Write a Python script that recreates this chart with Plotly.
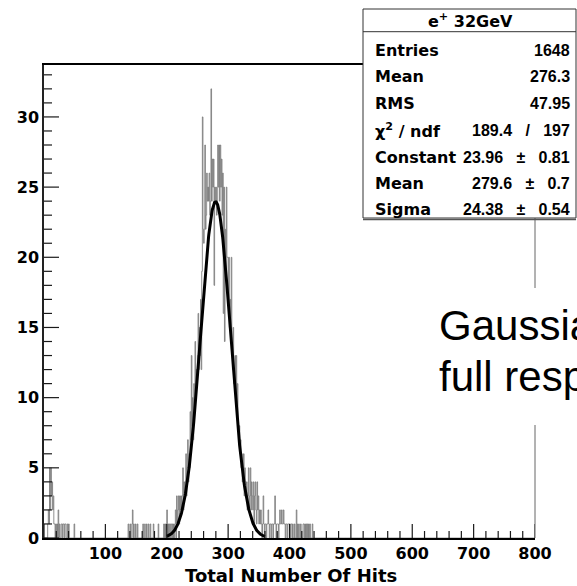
import numpy as np
import plotly.graph_objects as go

# ---------------- data ----------------
n_bins = 800
x_min, x_max = 0, 800

# scattered low-count bins left of the peak (bin lower edge -> entries)
left_bins = [6, 7, 8, 9, 10, 11, 12, 13, 14, 15, 16, 17, 19, 21, 23, 25, 28, 29, 31, 32,
             34, 35, 38, 40, 49, 137, 140, 143, 144, 146, 149, 152, 161, 164, 167, 170,
             173, 178, 186, 195, 197, 199]
left_counts = [1, 2, 1, 5, 2, 5, 3, 4, 2, 3, 1, 1, 1, 1, 2, 1, 1, 1, 1, 1,
               1, 1, 1, 1, 1, 1, 1, 1, 2, 1, 1, 1, 1, 1, 1, 1,
               1, 1, 1, 1, 1, 1]

# consecutive bins starting at hit count 200
peak_start = 200
peak_counts = [
    2, 0, 1, 0, 1, 0, 1, 1, 0, 1,          # 200
    0, 1, 0, 1, 2, 0, 3, 1, 2, 3,          # 210
    1, 3, 2, 3, 2, 3, 5, 2, 4, 3,          # 220
    4, 6, 3, 5, 7, 4, 6, 5, 9, 7,          # 230
    13, 8, 10, 7, 11, 9, 14, 10, 12, 11,   # 240
    13, 16, 12, 15, 13, 17, 12, 19, 30, 22,  # 250
    21, 22, 28, 22, 23, 26, 24, 25, 24, 26,  # 260
    23, 24, 32, 24, 27, 25, 27, 18, 25, 24,  # 270
    25, 23, 24, 28, 25, 28, 24, 28, 25, 27,  # 280
    23, 26, 16, 25, 14, 22, 19, 25, 20, 20,  # 290
    17, 20, 15, 17, 14, 20, 13, 12, 15, 11,  # 300
    12, 13, 10, 13, 9, 11, 8, 7, 8, 6,     # 310
    7, 5, 6, 4, 5, 6, 3, 5, 4, 3,          # 320
    4, 2, 3, 5, 2, 3, 5, 2, 4, 3,          # 330
    2, 4, 1, 3, 4, 2, 1, 4, 2, 3,          # 340
    1, 2, 1, 2, 1, 0, 1, 3, 1, 0,          # 350
    1, 1, 0, 1, 1, 2, 1, 0, 1, 1,          # 360
    0, 1, 1, 0, 1, 1, 3, 1, 0, 1,          # 370
    1, 1, 0, 1, 2, 1, 1, 2, 1, 1,          # 380
    2, 1, 1, 0, 1, 1, 0, 1, 1, 1,          # 390
    1, 0, 1, 1, 0, 1, 0, 0, 1, 0,          # 400
    0, 2, 0, 1, 0, 1, 0, 0, 1, 0,          # 410
    0, 0, 1, 1, 0, 1, 0, 1, 0, 1,          # 420
    0, 1, 0, 1, 0, 0, 0, 1, 0, 0,          # 430
]

# Gaussian fit parameters shown in the stat box
fit_constant = 23.96
fit_mean = 279.6
fit_sigma = 24.38
fit_lo, fit_hi = 200, 360

x_major = 100
x_minor = 20
y_major = 5
y_minor = 1
y_max = 33.7

stat_title = "e<sup>+</sup> 32GeV"
stat_labels = ["Entries", "Mean", "RMS", "χ<sup>2</sup> / ndf", "Constant", "Mean", "Sigma"]
NB = "\u00a0"
GAP = NB * 3
stat_values = ["1648", "276.3", "47.95", "189.4" + GAP + "/" + GAP + "197",
               "23.96" + GAP + "±" + GAP + "0.81", "279.6" + GAP + "±" + GAP + "0.7",
               "24.38" + GAP + "±" + GAP + "0.54"]

slide_lines = ["Gaussian", "full response"]

# ---------------- build ----------------
counts = np.zeros(n_bins)
for b, c in zip(left_bins, left_counts):
    counts[b] = c
counts[peak_start:peak_start + len(peak_counts)] = peak_counts
edges = np.linspace(x_min, x_max, n_bins + 1)
hy = np.append(counts, counts[-1])

gx = np.linspace(fit_lo, fit_hi, 400)
gy = fit_constant * np.exp(-0.5 * ((gx - fit_mean) / fit_sigma) ** 2)

W, H = 577, 586
L, R, T, B = 44, 42, 65, 48
pw, ph = W - L - R, H - T - B


def px(x):
    return (x - L) / pw


def py(y):
    return (H - B - y) / ph


fig = go.Figure()
fig.add_trace(go.Scatter(x=edges, y=hy, mode="lines",
                         line=dict(color="#747474", width=0.8, shape="hv", simplify=False),
                         hoverinfo="skip", showlegend=False))
fig.add_trace(go.Scatter(x=gx, y=gy, mode="lines",
                         line=dict(color="black", width=3),
                         hoverinfo="skip", showlegend=False))

# ROOT-style inside ticks as one segment trace (lengths in pixels -> data units)
tx, ty = [], []
for xv in np.arange(x_min, x_max + 0.1, x_minor):
    is_major = abs(xv / x_major - round(xv / x_major)) < 1e-9
    ln = (14 if is_major else 7) * y_max / ph
    tx += [float(xv), float(xv), None]
    ty += [0.0, float(ln), None]
for yv in np.arange(0, y_max, y_minor):
    is_major = abs(yv / y_major - round(yv / y_major)) < 1e-9
    ln = (15 if is_major else 8) * (x_max - x_min) / pw
    tx += [float(x_min), float(x_min + ln), None]
    ty += [float(yv), float(yv), None]
fig.add_trace(go.Scatter(x=tx, y=ty, mode="lines",
                         line=dict(color="#1a1a1a", width=1.2),
                         hoverinfo="skip", showlegend=False))

tfont = dict(family="DejaVu Sans", size=16, color="black", weight="bold")

fig.update_layout(
    template="none",
    width=W, height=H, autosize=False,
    margin=dict(l=L, r=R, t=T, b=B, pad=0),
    paper_bgcolor="white", plot_bgcolor="white",
    showlegend=False,
    xaxis=dict(range=[x_min, x_max], showgrid=False, zeroline=False,
               showline=True, linecolor="black", linewidth=2, mirror=True,
               ticks="", tickmode="linear", tick0=0, dtick=x_major,
               labelalias={"0": " "},
               tickfont=tfont),
    yaxis=dict(range=[0, y_max], showgrid=False, zeroline=False,
               showline=True, linecolor="#222", linewidth=1.5, mirror=False,
               ticks="", tickmode="linear", tick0=0, dtick=y_major,
               tickfont=tfont),
)

shapes = []
# right frame edge, visible only between the boxes
shapes.append(dict(type="line", xref="paper", yref="paper", x0=1, x1=1,
                   y0=0, y1=py(425), line=dict(color="#666", width=1), layer="above"))
shapes.append(dict(type="line", xref="paper", yref="paper", x0=1, x1=1,
                   y0=py(288), y1=py(218), line=dict(color="#666", width=1), layer="above"))
# stat box
shapes.append(dict(type="rect", xref="paper", yref="paper",
                   x0=px(363), x1=px(576), y0=py(218), y1=py(9),
                   fillcolor="white", line=dict(color="#333", width=1), layer="above"))
shapes.append(dict(type="line", xref="paper", yref="paper",
                   x0=px(363), x1=px(576), y0=py(219.5), y1=py(219.5),
                   line=dict(color="#555", width=1.5), layer="above"))
shapes.append(dict(type="line", xref="paper", yref="paper",
                   x0=px(363), x1=px(576), y0=py(31.7), y1=py(31.7),
                   line=dict(color="#333", width=1), layer="above"))
fig.update_layout(shapes=shapes)

lfont = dict(family="DejaVu Sans", size=16, color="black", weight="bold")
vfont = dict(family="Liberation Sans", size=16, color="black", weight="bold")
ann = []
ann.append(dict(text=stat_title, x=px(470), y=py(20.5), xref="paper", yref="paper",
                xanchor="center", yanchor="middle", showarrow=False, font=lfont))
row_y = [50, 77, 103.5, 130.5, 157, 183.5, 209]
for lab, val, yy in zip(stat_labels, stat_values, row_y):
    ann.append(dict(text=lab, x=px(373), y=py(yy), xref="paper", yref="paper",
                    xanchor="left", yanchor="middle", showarrow=False, font=lfont))
    ann.append(dict(text=val, x=px(572), y=py(yy), xref="paper", yref="paper",
                    xanchor="right", yanchor="middle", showarrow=False, font=vfont))
# x axis title
ann.append(dict(text="Total Number Of Hits", x=px(291), y=py(575), xref="paper", yref="paper",
                xanchor="center", yanchor="middle", showarrow=False,
                font=dict(family="DejaVu Sans", size=18, color="black", weight="bold")))
# slide text overlay
bfont = dict(family="Liberation Sans", size=42, color="black")
ann.append(dict(text=slide_lines[0], x=px(437), y=py(325), xref="paper", yref="paper",
                xanchor="left", yanchor="middle", showarrow=False, font=bfont))
ann.append(dict(text=slide_lines[1], x=px(437), y=py(377), xref="paper", yref="paper",
                xanchor="left", yanchor="middle", showarrow=False, font=bfont))
fig.update_layout(annotations=ann)

fig.write_html("out.html")
